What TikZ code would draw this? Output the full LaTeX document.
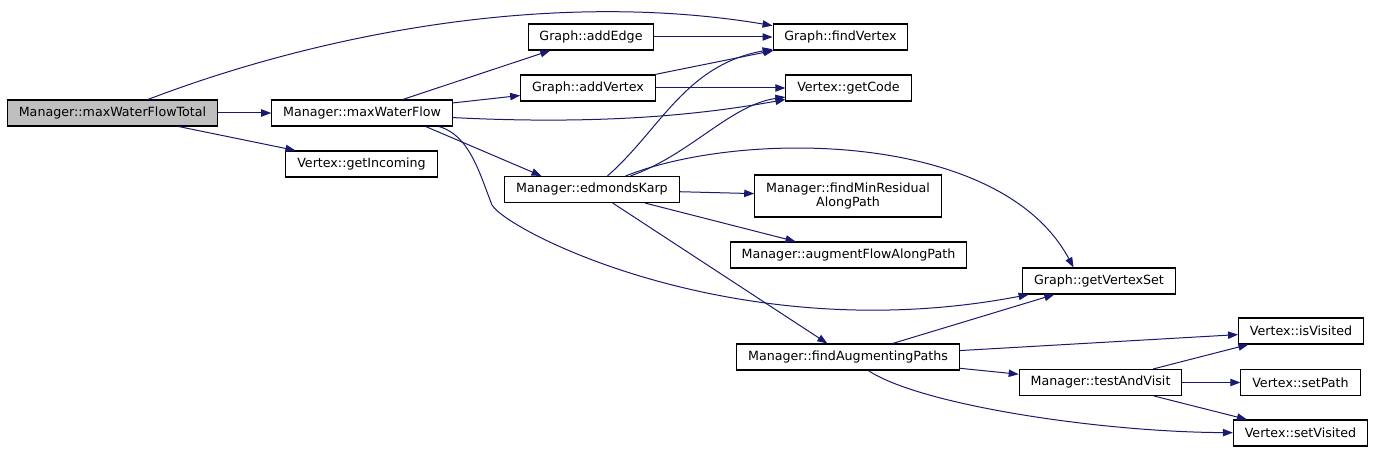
\documentclass[tikz,border=0pt]{standalone}
\usepackage{fontspec}
\setmainfont{DejaVu Sans}
\usepackage{tikz}
\usetikzlibrary{arrows.meta}
\definecolor{edgec}{HTML}{191970}
\definecolor{rootc}{HTML}{BFBFBF}

\begin{document}
\begin{tikzpicture}[x=0.75pt,y=-0.75pt,
  fn/.style={draw=black,line width=0.8pt,fill=white,font=\fontsize{9.5}{11}\selectfont,
    inner xsep=8.5pt,inner ysep=0pt,minimum height=19.5pt},
  call/.style={draw=edgec,line width=0.75pt,-{Triangle[length=7.5pt,width=5.5pt]}}]
  \useasboundingbox (0,0) rectangle (1375,452);
  \node[fn,fill=rootc] (tot) at (112.5,113) {Manager::maxWaterFlowTotal};
  \foreach \n/\x/\y/\t in {mwf/362/113/Manager::maxWaterFlow, inc/361.5/164/Vertex::getIncoming,
     addE/591/37/Graph::addEdge, addV/588/88/Graph::addVertex, findV/840.5/37/Graph::findVertex,
     code/848.5/88/Vertex::getCode, ek/592/189.5/Manager::edmondsKarp,
     aug/848.5/255/Manager::augmentFlowAlongPath, vset/1099/281/Graph::getVertexSet,
     fap/848/357/Manager::findAugmentingPaths, visd/1301/331/Vertex::isVisited,
     tav/1100.5/382.5/Manager::testAndVisit, spath/1300.5/382.5/Vertex::setPath,
     svis/1300.5/433/Vertex::setVisited}
     \node[fn] (\n) at (\x,\y) {\t};
  \node[fn,align=center,minimum height=31.5pt] (minres) at (848,196) {Manager::findMinResidual\\AlongPath};
  \foreach \a/\b in {tot/mwf,tot/inc,mwf/addE,mwf/addV,addE/findV,addV/findV,addV/code,
     ek/minres,ek/aug,ek/fap,fap/vset,fap/visd,fap/tav,tav/visd,tav/spath,tav/svis}
     \draw[call] (\a) -- (\b);
  \draw[call] (mwf.-12) -- (ek.165);
  \draw[call] (tot) .. controls (330,30) and (560,-10) .. (findV);
  \draw[call] (mwf) .. controls (600,125) and (700,115) .. (code);
  \draw[call] (mwf.-10) .. controls (470,135) and (480,175) .. (492,205)
     .. controls (508,232) and (740,350) .. (vset);
  \draw[call] (ek) .. controls (660,130) and (685,65) .. (findV);
  \draw[call] (ek) .. controls (690,155) and (730,105) .. (code);
  \draw[call] (ek) .. controls (740,130) and (1000,130) .. (vset.152);
  \draw[call] (fap) .. controls (920,405) and (1100,432) .. (svis);
\end{tikzpicture}
\end{document}
